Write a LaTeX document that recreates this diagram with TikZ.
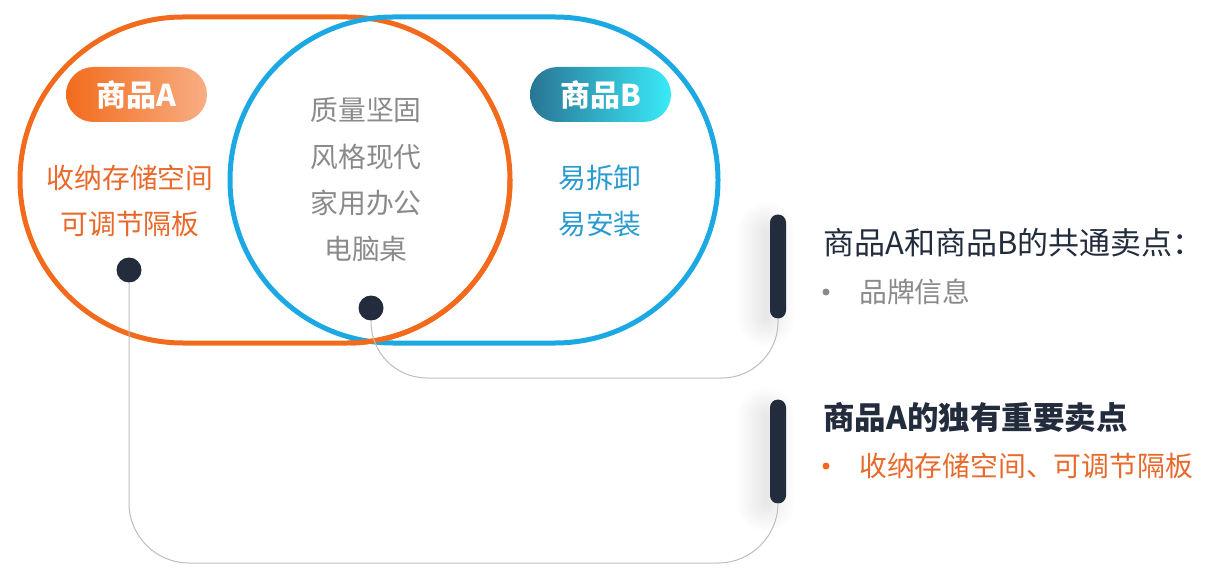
\documentclass[tikz,border=0pt]{standalone}
\usepackage{fontspec}
\newfontfamily\cjk{Noto Sans CJK SC}
\usetikzlibrary{shadows.blur}
\definecolor{orA}{HTML}{F26B1D}
\definecolor{orT}{HTML}{E8692A}
\definecolor{blB}{HTML}{1CA9E3}
\definecolor{blT}{HTML}{2A9BD0}
\definecolor{navy}{HTML}{232C3D}
\definecolor{grT}{HTML}{8A8A8A}
\definecolor{lnG}{HTML}{BDBDBD}
\tikzset{
  txt/.style={font=\cjk\fontsize{27.8}{27.8}\selectfont, inner sep=0pt},
  pill/.style={rounded corners=27.5pt, minimum width=141pt, minimum height=55pt,
     inner sep=0pt, text=white, font=\cjk\bfseries\fontsize{30}{30}\selectfont},
  dot/.style={circle, fill=navy, minimum size=25pt, inner sep=0pt},
  bar/.style={fill=navy, rounded corners=8pt, minimum width=16pt, minimum height=104pt,
     inner sep=0pt, blur shadow={shadow xshift=-12pt, shadow yshift=-8pt,
     shadow blur radius=22pt, shadow blur steps=25, shadow opacity=14}},
  conn/.style={draw=lnG, line width=1pt},
  ring/.style={line width=5pt},
  bullet/.style={circle, minimum size=7pt, inner sep=0pt}
}
\begin{document}
\begin{tikzpicture}[x=1pt,y=-1pt]
\useasboundingbox (0,0) rectangle (1215,580);
% stadium shapes
\draw[ring, draw=orA, rounded corners=162.9pt] (20,17) rectangle (510,343);
\draw[ring, draw=blB, rounded corners=162.9pt] (230,17) rectangle (718,343);
\begin{scope}
  \clip (350,180) rectangle (520,350);
  \draw[ring, draw=orA, rounded corners=162.9pt] (20,17) rectangle (510,343);
\end{scope}
% pills
\node[pill, left color=orA!100!red, right color=orA!55!white] (pA) at (136.5,94.5) {商品A};
\node[pill, left color=blB!60!black!90, right color=cyan!70!blB!80] (pB) at (600.5,94.5) {商品B};
% texts
\node[txt, text=orT] (a1) at (130,178) {收纳存储空间};
\node[txt, text=orT] (a2) at (130,224) {可调节隔板};
\node[txt, text=grT] (m1) at (366,110) {质量坚固};
\node[txt, text=grT] (m2) at (366,157) {风格现代};
\node[txt, text=grT] (m3) at (366,203) {家用办公};
\node[txt, text=grT] (m4) at (366,249) {电脑桌};
\node[txt, text=blT] (b1) at (600,178) {易拆卸};
\node[txt, text=blT] (b2) at (600,224) {易安装};
% dots
\node[dot] (dA) at (129,270) {};
\node[dot] (dM) at (371,308) {};
% bars
\node[bar] (barC) at (778,266.5) {};
\node[bar] (barA) at (778,451.5) {};
% connectors
\coordinate (cM) at (778,378);
\coordinate (cA) at (778,563);
\draw[conn, rounded corners=56pt] (dM.south) |- (cM) -- (barC.south);
\draw[conn, rounded corners=60pt] (dA.south) |- (cA) -- (barA.south);
% right texts
\node[txt, text=navy, anchor=west, font=\cjk\fontsize{31}{31}\selectfont] (t1) at (823,243) {商品A和商品B的共通卖点：};
\node[bullet, fill=grT] (bu1) at (826,292) {};
\node[txt, text=grT, anchor=west] (t2) at (859,292) {品牌信息};
\node[txt, text=navy, anchor=west, font=\cjk\bfseries\fontsize{31.5}{31.5}\selectfont] (t3) at (823,418) {商品A的独有重要卖点};
\node[bullet, fill=orA] (bu2) at (826,466) {};
\node[txt, text=orT, anchor=west] (t4) at (859,466) {收纳存储空间、可调节隔板};
\end{tikzpicture}
\end{document}
